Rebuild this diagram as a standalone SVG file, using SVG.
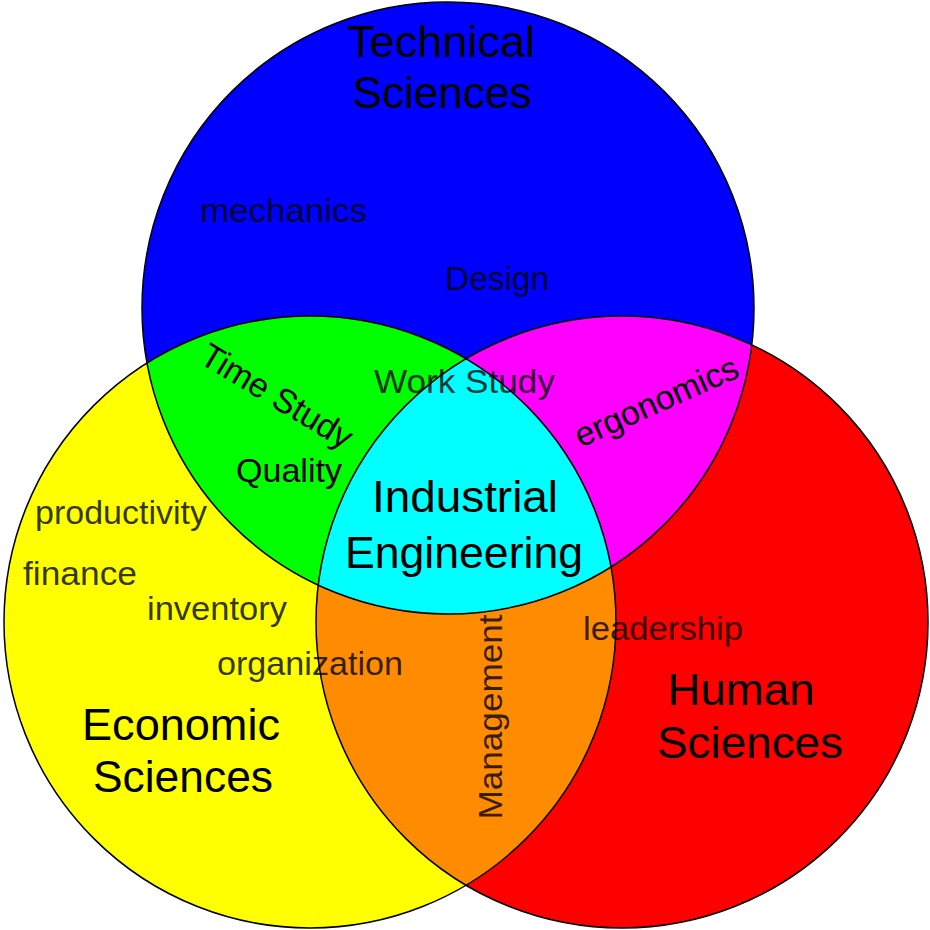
<svg xmlns="http://www.w3.org/2000/svg" width="930" height="930" viewBox="0 0 930 930">
<style>
text{font-family:"Liberation Sans",Arial,sans-serif;fill:#000}
.big{font-size:44px}
.sm{font-size:34px}
.soft{fill-opacity:0.8}
.ol{fill:none;stroke:#000;stroke-width:1.5}
</style>
<defs>
<clipPath id="cY"><circle cx="310" cy="622" r="306"/></clipPath>
<clipPath id="cR"><circle cx="622" cy="622" r="306"/></clipPath>
</defs>
<rect width="930" height="930" fill="#fff"/>
<g id="economic-sciences"><circle cx="310" cy="622" r="306" fill="#FFFF00"/></g>
<g id="human-sciences"><circle cx="622" cy="622" r="306" fill="#FF0000"/></g>
<g id="technical-sciences"><circle cx="448" cy="308" r="306" fill="#0000FF"/></g>
<g id="econ-human" clip-path="url(#cR)"><circle cx="310" cy="622" r="306" fill="#FF8C00"/></g>
<g id="tech-econ" clip-path="url(#cY)"><circle cx="448" cy="308" r="306" fill="#00FF00"/></g>
<g id="tech-human" clip-path="url(#cR)"><circle cx="448" cy="308" r="306" fill="#FF00FF"/></g>
<g id="industrial-engineering" clip-path="url(#cR)"><g clip-path="url(#cY)"><circle cx="448" cy="308" r="306" fill="#00FFFF"/></g></g>
<g id="outlines">
<circle class="ol" cx="310" cy="622" r="306"/>
<circle class="ol" cx="622" cy="622" r="306"/>
<circle class="ol" cx="448" cy="308" r="306"/>
</g>
<g id="labels">
<text class="big" x="441" y="57" text-anchor="middle" textLength="188" lengthAdjust="spacingAndGlyphs">Technical</text>
<text class="big" x="442" y="108" text-anchor="middle" textLength="179" lengthAdjust="spacingAndGlyphs">Sciences</text>
<text class="sm soft" x="200" y="222" textLength="167" lengthAdjust="spacingAndGlyphs">mechanics</text>
<text class="sm soft" x="445" y="290" textLength="104" lengthAdjust="spacingAndGlyphs">Design</text>
<text class="sm" transform="translate(271,406) rotate(31)" text-anchor="middle">Time Study</text>
<text class="sm soft" x="374" y="393" textLength="181" lengthAdjust="spacingAndGlyphs">Work Study</text>
<text class="sm" transform="translate(661,412) rotate(-24)" text-anchor="middle">ergonomics</text>
<text class="sm" x="236" y="482" textLength="106" lengthAdjust="spacingAndGlyphs">Quality</text>
<text class="big" x="465" y="512" text-anchor="middle" textLength="186" lengthAdjust="spacingAndGlyphs">Industrial</text>
<text class="big" x="464" y="568" text-anchor="middle" textLength="238" lengthAdjust="spacingAndGlyphs">Engineering</text>
<text class="sm soft" x="35" y="524" textLength="172" lengthAdjust="spacingAndGlyphs">productivity</text>
<text class="sm soft" x="23" y="585" textLength="114" lengthAdjust="spacingAndGlyphs">finance</text>
<text class="sm soft" x="147" y="620" textLength="140" lengthAdjust="spacingAndGlyphs">inventory</text>
<text class="sm soft" x="217" y="675" textLength="186" lengthAdjust="spacingAndGlyphs">organization</text>
<text class="sm soft" x="583" y="640" textLength="160" lengthAdjust="spacingAndGlyphs">leadership</text>
<text class="sm soft" transform="translate(502,717) rotate(-90)" text-anchor="middle" textLength="205" lengthAdjust="spacingAndGlyphs">Management</text>
<text class="big" x="741" y="705" text-anchor="middle" textLength="147" lengthAdjust="spacingAndGlyphs">Human</text>
<text class="big" x="750" y="758" text-anchor="middle" textLength="186" lengthAdjust="spacingAndGlyphs">Sciences</text>
<text class="big" x="181" y="740" text-anchor="middle" textLength="198" lengthAdjust="spacingAndGlyphs">Economic</text>
<text class="big" x="183" y="792" text-anchor="middle" textLength="180" lengthAdjust="spacingAndGlyphs">Sciences</text>
</g>
</svg>
